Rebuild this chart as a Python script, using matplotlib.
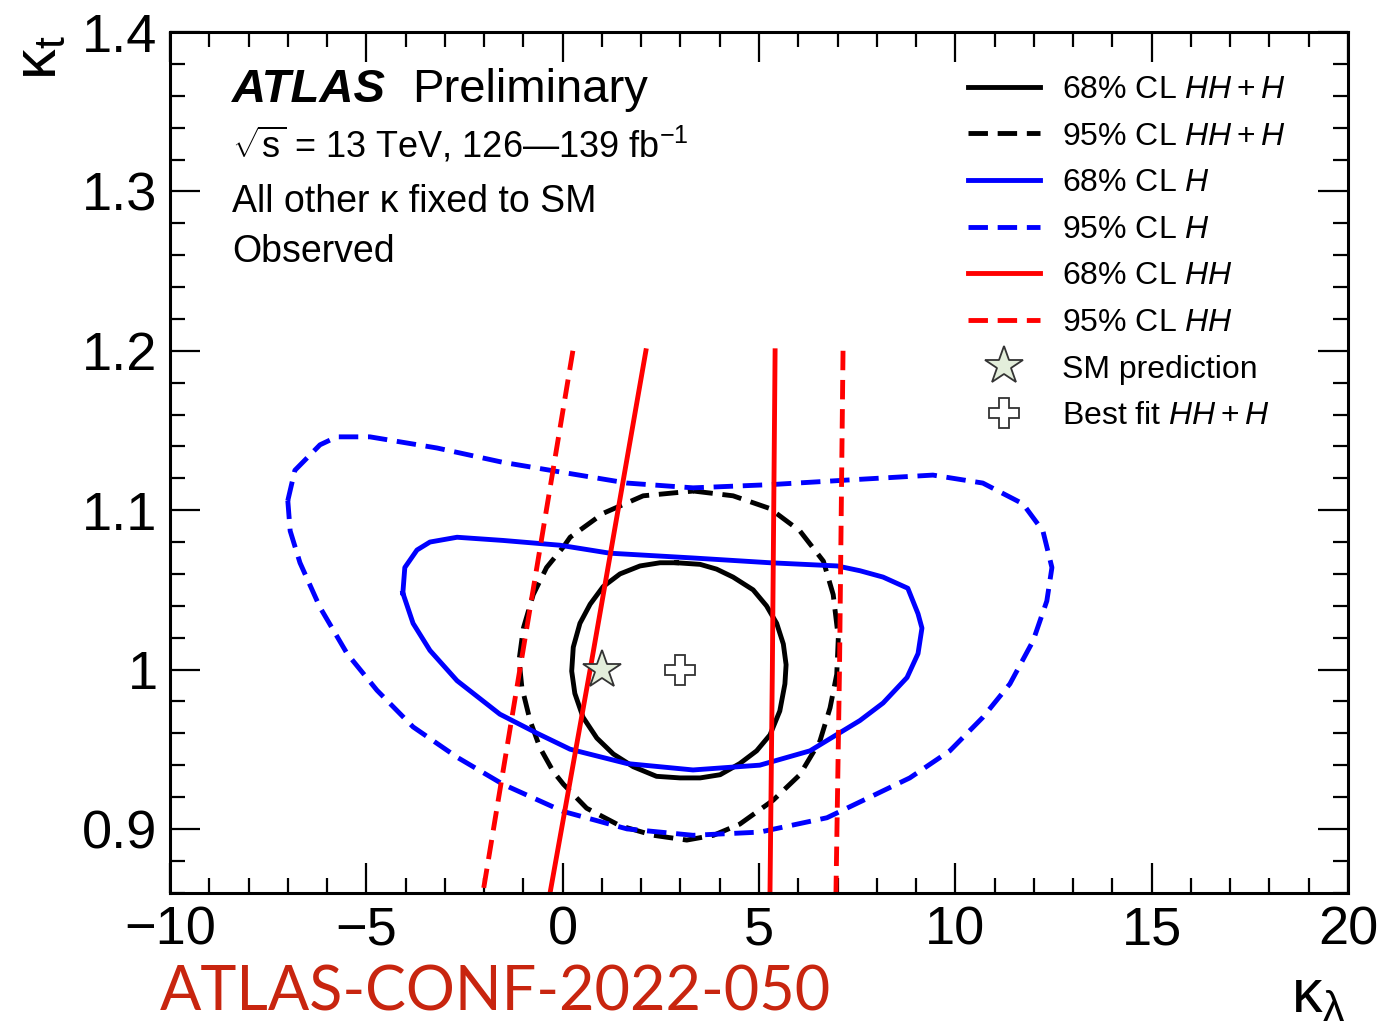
import matplotlib.pyplot as plt
from matplotlib.ticker import MultipleLocator

plt.rcParams['font.family'] = ['Liberation Sans', 'DejaVu Sans']
plt.rcParams['mathtext.fontset'] = 'custom'
plt.rcParams['mathtext.rm'] = 'Liberation Sans'
plt.rcParams['mathtext.it'] = 'Liberation Sans:italic'
plt.rcParams['mathtext.bf'] = 'Liberation Sans:bold'

# 95% CL, H only (blue dashed) - closed contour
h95_kl = [-7.00, -6.82, -6.18, -5.75, -4.91, -3.20, -1.52, -0.07, 1.64, 3.32, 5.28, 7.32, 9.43, 10.70,
          11.72, 12.23, 12.46, 12.33, 11.98, 11.39, 10.70, 9.86, 8.84, 7.83, 6.73, 5.02, 3.32, 1.64,
          0.01, -1.52, -2.69, -3.81, -4.73, -5.49, -6.18, -6.69, -6.94, -7.00]
h95_kt = [1.106, 1.125, 1.141, 1.146, 1.146, 1.139, 1.130, 1.124, 1.117, 1.114, 1.116, 1.119, 1.122, 1.117,
          1.104, 1.087, 1.064, 1.043, 1.018, 0.991, 0.970, 0.949, 0.932, 0.920, 0.907, 0.898, 0.896, 0.900,
          0.911, 0.928, 0.945, 0.964, 0.987, 1.010, 1.039, 1.067, 1.087, 1.106]

# 68% CL, H only (blue solid)
h68_kl = [-4.07, -4.02, -3.71, -3.38, -2.69, -1.52, -0.07, 1.20, 3.32, 5.28, 6.99, 7.57, 8.16, 8.79, 9.05,
          9.15, 9.05, 8.77, 8.16, 7.57, 6.30, 5.02, 3.32, 1.64, 0.19, -0.65, -1.60, -2.69, -3.38, -3.81, -4.07]
h68_kt = [1.048, 1.064, 1.075, 1.080, 1.083, 1.081, 1.078, 1.073, 1.070, 1.067, 1.065, 1.062, 1.058, 1.051, 1.035,
          1.026, 1.010, 0.995, 0.979, 0.968, 0.949, 0.940, 0.937, 0.941, 0.950, 0.960, 0.972, 0.993, 1.012, 1.029, 1.048]

# 68% CL, HH + H (black solid)
comb68_kl = [2.90, 3.50, 3.92, 4.34, 4.85, 5.19, 5.45, 5.62, 5.69, 5.66, 5.53, 5.28, 4.94, 4.51, 4.01, 3.50,
             2.99, 2.39, 1.80, 1.29, 0.87, 0.52, 0.31, 0.23, 0.27, 0.44, 0.70, 1.03, 1.46, 1.97, 2.48, 2.90]
comb68_kt = [1.067, 1.066, 1.063, 1.058, 1.050, 1.040, 1.029, 1.016, 1.003, 0.991, 0.974, 0.959, 0.949, 0.941,
             0.934, 0.932, 0.932, 0.933, 0.939, 0.947, 0.957, 0.970, 0.985, 0.999, 1.014, 1.029, 1.041, 1.052,
             1.060, 1.065, 1.067, 1.067]

# 95% CL, HH + H (black dashed)
comb95_kl = [3.33, 4.34, 5.28, 6.04, 6.64, 6.89, 7.02, 6.98, 6.81, 6.55, 6.04, 5.36, 4.51, 3.84, 3.16, 2.31,
             1.46, 0.61, 0.02, -0.24, -0.58, -0.83, -1.04, -1.11, -1.00, -0.75, -0.41, 0.02, 0.19, 1.03, 2.05, 3.33]
comb95_kt = [1.112, 1.109, 1.101, 1.087, 1.068, 1.047, 1.020, 0.997, 0.976, 0.955, 0.934, 0.918, 0.903, 0.896,
             0.893, 0.896, 0.902, 0.913, 0.928, 0.936, 0.951, 0.968, 0.989, 1.006, 1.026, 1.047, 1.064, 1.077,
             1.083, 1.098, 1.109, 1.112]

# HH only: two open bands (red)
hh_kt = [1.20, 1.00, 0.86]
hh68_left_kl = [2.12, 0.70, -0.32]
hh68_right_kl = [5.41, 5.34, 5.28]
hh95_left_kl = [0.26, -1.09, -2.03]
hh95_right_kl = [7.14, 7.05, 6.96]

sm_point = (1.0, 1.0)
best_fit = (3.0, 1.0)

xticks = [-10, -5, 0, 5, 10, 15, 20]
yticks = [0.9, 1.0, 1.1, 1.2, 1.3, 1.4]
ytick_labels = ['0.9', '1', '1.1', '1.2', '1.3', '1.4']

fig = plt.figure(figsize=(13.81, 10.23), dpi=100)
ax = fig.add_axes([0.1231, 0.1274, 0.8530, 0.8413])

lw = 3.5
dash = (4, 2)
l1, = ax.plot(comb68_kl, comb68_kt, color='black', lw=lw, label='68% CL $HH + H$')
l2, = ax.plot(comb95_kl, comb95_kt, color='black', lw=lw, dashes=dash, label='95% CL $HH + H$')
l3, = ax.plot(h68_kl, h68_kt, color='blue', lw=lw, label='68% CL $H$')
l4, = ax.plot(h95_kl, h95_kt, color='blue', lw=lw, dashes=dash, label='95% CL $H$')
l5, = ax.plot(hh68_left_kl, hh_kt, color='red', lw=lw, label='68% CL $HH$')
ax.plot(hh68_right_kl, hh_kt, color='red', lw=lw)
l6, = ax.plot(hh95_left_kl, hh_kt, color='red', lw=lw, dashes=dash, label='95% CL $HH$')
ax.plot(hh95_right_kl, hh_kt, color='red', lw=lw, dashes=dash)
l7, = ax.plot([sm_point[0]], [sm_point[1]], ls='none', marker='*', ms=29, mfc='#e3eedb',
              mec='#333333', mew=1.3, label='SM prediction')
l8, = ax.plot([best_fit[0]], [best_fit[1]], ls='none', marker='P', ms=21, mfc='white',
              mec='#333333', mew=1.3, label='Best fit $HH + H$')

ax.set_xlim(-10, 20)
ax.set_ylim(0.86, 1.4)
ax.set_xticks(xticks)
ax.set_xticklabels([str(t) if t >= 0 else '\u2212' + str(-t) for t in xticks])
ax.set_yticks(yticks)
ax.set_yticklabels(ytick_labels)
ax.xaxis.set_minor_locator(MultipleLocator(1))
ax.yaxis.set_minor_locator(MultipleLocator(0.02))
ax.tick_params(which='both', direction='in', top=True, right=True, width=1.6)
ax.tick_params(which='major', length=21.5, labelsize=39, pad=9)
ax.tick_params(which='minor', length=10.5)
for s in ax.spines.values():
    s.set_linewidth(2.2)

leg = ax.legend(handles=[l1, l2, l3, l4, l5, l6, l7, l8], loc='upper left',
                bbox_to_anchor=(968 / 1381, 1 - 75 / 1023), bbox_transform=fig.transFigure,
                frameon=False, fontsize=23, handlelength=2.25, handletextpad=0.7,
                labelspacing=0.52, borderpad=0, borderaxespad=0)

fig.text(232 / 1381, 1 - 102 / 1023, 'ATLAS', fontsize=34, fontweight='bold', style='italic')
fig.text(412 / 1381, 1 - 102 / 1023, 'Preliminary', fontsize=34)
fig.text(232 / 1381, 1 - 157 / 1023, r'$\sqrt{\mathrm{s}}$ = 13 TeV, 126' + '\u2014' + '139 fb$^{-1}$',
         fontsize=26)
fig.text(232 / 1381, 1 - 212 / 1023, 'All other \u03ba fixed to SM', fontsize=27)
fig.text(232 / 1381, 1 - 262 / 1023, 'Observed', fontsize=27)

fig.text(1345 / 1381, 1 - 1012 / 1023, r'$\mathrm{\kappa_{\lambda}}$', fontsize=44, ha='right')
fig.text(40 / 1381, 1 - 35 / 1023, r'$\mathrm{\kappa_{t}}$', fontsize=44, rotation=90, ha='center', va='top')

fig.text(160 / 1381, 0.001, 'ATLAS-CONF-2022-050', fontsize=44, color='#c8250f', va='bottom',
         family=['Lato', 'DejaVu Sans'])

fig.savefig('out.png', dpi=100)
